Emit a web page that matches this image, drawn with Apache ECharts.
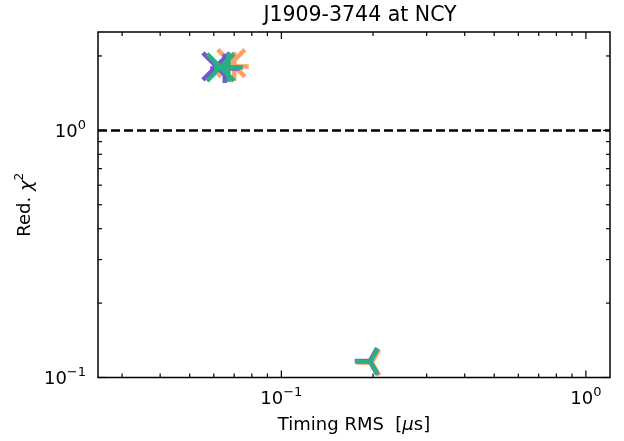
<!DOCTYPE html>
<html>
<head>
<meta charset="utf-8">
<script src="https://cdn.jsdelivr.net/npm/echarts@6/dist/echarts.min.js"></script>
<style>html,body{margin:0;padding:0;background:#fff}#c{width:624px;height:441px}</style>
</head>
<body>
<div id="c"></div>
<script>
// ---- axis limits & ticks ----
const xLimits = [0.025, 1.2];
const yLimits = [0.1, 2.5];
const xMajorTicks = [0.1, 1];
const xMinorTicks = [0.03,0.04,0.05,0.06,0.07,0.08,0.09,0.2,0.3,0.4,0.5,0.6,0.7,0.8,0.9];
const yMajorTicks = [0.1, 1];
const yMinorTicks = [0.2,0.3,0.4,0.5,0.6,0.7,0.8,0.9,2];
const referenceLine = 1;

// ---- data points [timing RMS (us), reduced chi2] ----
const orangeX    = [[0.0685, 1.87]];
const orangePlus = [[0.0700, 1.814]];
const orangeTri  = [[0.198, 0.1150]];
const purpleX    = [[0.0612, 1.814]];
const purplePlus = [[0.0652, 1.780]];
const purpleTri  = [[0.1951, 0.1166]];
const greenX     = [[0.0631, 1.797]];
const greenPlus  = [[0.0670, 1.797]];
const greenTri   = [[0.1959, 0.1160]];

const ORANGE = '#ffa062', PURPLE = '#7a50d4', GREEN = '#2aae84';

function markerSeries(data, marker, color) {
  return {
    type: 'custom', data: data, clip: false, silent: true, z: 5,
    renderItem: function (params, api) {
      const p = api.coord([api.value(0), api.value(1)]);
      const s = 13.5, st = { stroke: color, lineWidth: 4.5 };
      let segs = [];
      if (marker === 'x') segs = [[-s,-s,s,s],[-s,s,s,-s]];
      else if (marker === '+') segs = [[-s-1,0,s+1,0],[0,-s-1,0,s+1]];
      else if (marker === 'tri') { const r = 15; segs = [[0,0,-r,0],[0,0,r*0.5,-r*0.866],[0,0,r*0.5,r*0.866]]; }
      return { type: 'group', children: segs.map(function (g) {
        return { type: 'line', shape: { x1: p[0]+g[0], y1: p[1]+g[1], x2: p[0]+g[2], y2: p[1]+g[3] }, style: st };
      }) };
    }
  };
}

function tickSeries(values, axis, len) {
  return {
    type: 'custom', silent: true, clip: false, z: 3,
    data: values.map(function (v) { return [v]; }),
    renderItem: function (params, api) {
      const v = api.value(0);
      const st = { stroke: '#000', lineWidth: 1.2 };
      let a, b, lines;
      if (axis === 'x') {
        a = api.coord([v, yLimits[0]]); b = api.coord([v, yLimits[1]]);
        lines = [[a[0], a[1], a[0], a[1]-len], [b[0], b[1], b[0], b[1]+len]];
      } else {
        a = api.coord([xLimits[0], v]); b = api.coord([xLimits[1], v]);
        lines = [[a[0], a[1], a[0]+len, a[1]], [b[0], b[1], b[0]-len, b[1]]];
      }
      return { type: 'group', children: lines.map(function (g) {
        return { type: 'line', shape: { x1: g[0], y1: g[1], x2: g[2], y2: g[3] }, style: st };
      }) };
    },
    encode: { x: 0, y: 0 }
  };
}

function powLabel(v) {
  const e = Math.log10(v);
  if (Math.abs(e - Math.round(e)) > 1e-6) return '';
  const n = Math.round(e);
  return '{b|10}{s|' + (n < 0 ? '\u2212' + (-n) : n) + '}';
}
const labelRich = {
  b: { fontSize: 18, fontFamily: 'DejaVu Sans', color: '#000', lineHeight: 22, verticalAlign: 'bottom' },
  s: { fontSize: 13, fontFamily: 'DejaVu Sans', color: '#000', lineHeight: 22, verticalAlign: 'top', padding: [0,0,8,0] }
};

const chart = echarts.init(document.getElementById('c'), null, { renderer: 'canvas' });
chart.setOption({
  animation: false,
  backgroundColor: '#fff',
  title: {
    text: 'J1909-3744 at NCY', left: 355, top: 0, textAlign: 'center',
    textStyle: { fontFamily: 'DejaVu Sans', fontSize: 20.5, fontWeight: 'normal', color: '#000' }
  },
  grid: { left: 98, right: 14, top: 32, bottom: 63.5, show: true, borderColor: '#000', borderWidth: 1.5, backgroundColor: 'transparent' },
  xAxis: {
    type: 'log', logBase: 10, min: xLimits[0], max: xLimits[1],
    axisLine: { show: false }, axisTick: { show: false }, splitLine: { show: false },
    axisLabel: { formatter: powLabel, rich: labelRich, margin: 9, showMinLabel: false, showMaxLabel: false },
    name: 'Timing RMS  [{i|\u03bc}s]', nameLocation: 'middle', nameGap: 39, nameMoveOverlap: false,
    nameTextStyle: { fontFamily: 'DejaVu Sans', fontSize: 18, color: '#000',
      rich: { i: { fontFamily: 'DejaVu Sans', fontStyle: 'italic', fontSize: 18, color: '#000' } } }
  },
  yAxis: {
    type: 'log', logBase: 10, min: yLimits[0], max: yLimits[1],
    axisLine: { show: false }, axisTick: { show: false }, splitLine: { show: false },
    axisLabel: { formatter: powLabel, rich: labelRich, margin: 12, showMinLabel: true, showMaxLabel: false },
    name: 'Red. {i|\u03c7}{s|2}', nameLocation: 'middle', nameGap: 62, nameMoveOverlap: false,
    nameTextStyle: { fontFamily: 'DejaVu Sans', fontSize: 18, color: '#000',
      rich: { i: { fontFamily: 'DejaVu Sans', fontStyle: 'italic', fontSize: 18, color: '#000', lineHeight: 22, verticalAlign: 'bottom' },
              s: { fontFamily: 'DejaVu Sans', fontSize: 12, color: '#000', lineHeight: 22, verticalAlign: 'top' } } }
  },
  series: [
    tickSeries(xMajorTicks, 'x', 7),
    tickSeries(xMinorTicks, 'x', 4),
    tickSeries(yMajorTicks, 'y', 7),
    tickSeries(yMinorTicks, 'y', 4),
    {
      type: 'line', data: [], silent: true,
      markLine: { symbol: 'none', silent: true, label: { show: false },
        lineStyle: { color: '#000', width: 2.6, type: [9, 4] },
        data: [{ yAxis: referenceLine }] }
    },
    markerSeries(orangeX, 'x', ORANGE),
    markerSeries(orangePlus, '+', ORANGE),
    markerSeries(orangeTri, 'tri', ORANGE),
    markerSeries(purpleX, 'x', PURPLE),
    markerSeries(purplePlus, '+', PURPLE),
    markerSeries(purpleTri, 'tri', PURPLE),
    markerSeries(greenX, 'x', GREEN),
    markerSeries(greenPlus, '+', GREEN),
    markerSeries(greenTri, 'tri', GREEN)
  ]
});
</script>
</body>
</html>
